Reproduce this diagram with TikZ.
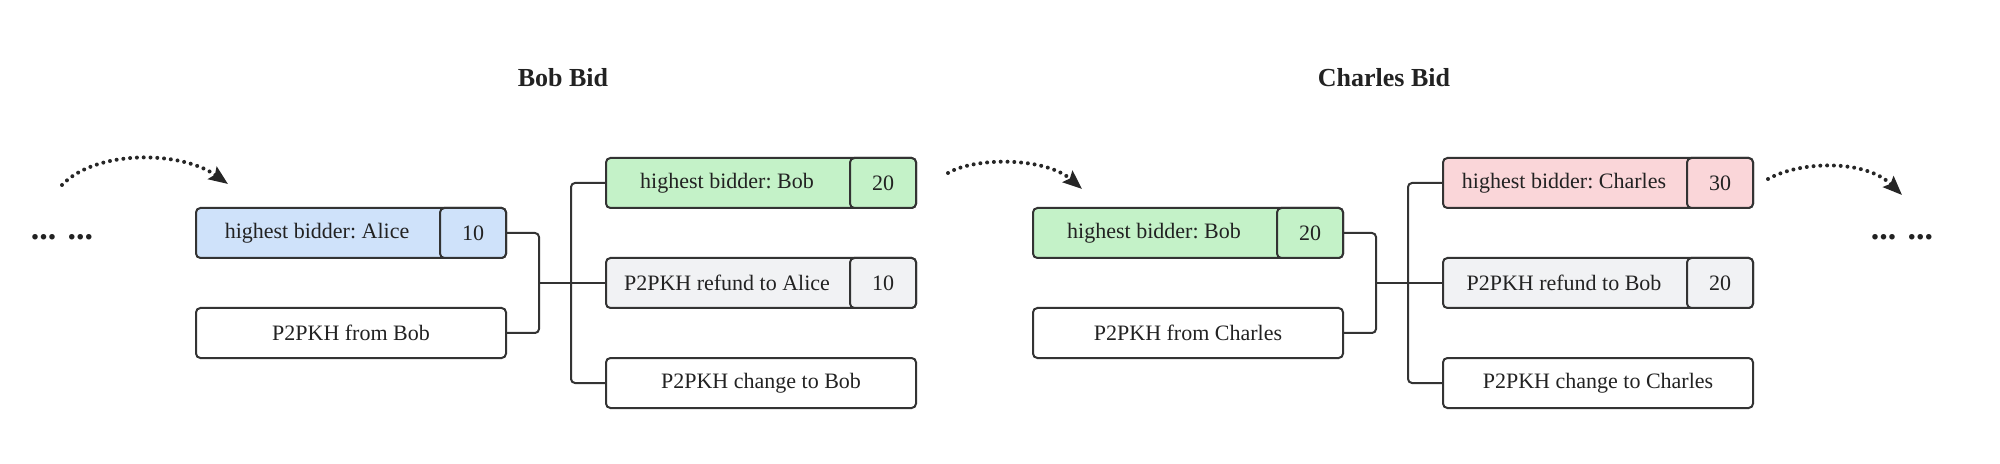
\documentclass[tikz,border=0pt]{standalone}
\usepackage{fontspec}
\setmainfont{Liberation Serif}
\usetikzlibrary{arrows.meta,calc}
\definecolor{linec}{RGB}{51,51,51}
\definecolor{textc}{RGB}{34,34,34}
\definecolor{cblue}{RGB}{207,226,250}
\definecolor{cgreen}{RGB}{196,242,200}
\definecolor{cpink}{RGB}{250,214,217}
\definecolor{cgray}{RGB}{241,242,244}
\tikzset{
  outbox/.style={draw=linec, line width=1pt, rounded corners=2.2pt, minimum width=155pt, minimum height=25pt, inner sep=0pt, font=\fontsize{11}{13}\selectfont\frenchspacing, text=textc},
  valcell/.style={draw=linec, line width=1pt, rounded corners=2.2pt, minimum width=33pt, minimum height=25pt, inner sep=0pt, font=\fontsize{11}{13}\selectfont, text=textc},
  lbl/.style={inner sep=0pt, font=\fontsize{11}{13}\selectfont\frenchspacing, text=textc},
  conn/.style={draw=linec, line width=1pt, rounded corners=2pt},
  title/.style={inner sep=0pt, font=\fontsize{13}{15}\selectfont\bfseries, text=textc, anchor=base},
  ellip/.style={inner sep=0pt, font=\fontsize{17}{19}\selectfont\bfseries\nonfrenchspacing, text=textc, anchor=base},
  flow/.style={draw=black!85, line width=2pt, line cap=round, dash pattern=on 0pt off 3.4pt, -{Stealth[length=9.5pt,width=7.5pt,inset=1.5pt,fill=linec]}}
}
\begin{document}
\begin{tikzpicture}[x=0.5pt,y=-0.5pt]
\useasboundingbox (0,0) rectangle (2000,464);

% titles
\node[title] (t1) at (563,87) {Bob Bid};
\node[title] (t2) at (1384,87) {Charles Bid};

% ellipses
\node[ellip] (dl) at (62,240) {... ...};
\node[ellip] (dr) at (1902,240) {... ...};

% ===== Bob Bid =====
\node[outbox, fill=cblue, anchor=west] (a1) at (195,233) {};
\node[valcell, fill=cblue, anchor=east] (a1v) at (a1.east) {10};
\node[lbl] (a1t) at ($(a1.west)!0.5!(a1v.west)$) {highest bidder: Alice};
\node[outbox, fill=white, anchor=west] (a2) at (195,333) {P2PKH from Bob};

\node[outbox, fill=cgreen, anchor=west] (b1) at (605,183) {};
\node[valcell, fill=cgreen, anchor=east] (b1v) at (b1.east) {20};
\node[lbl] (b1t) at ($(b1.west)!0.5!(b1v.west)$) {highest bidder: Bob};
\node[outbox, fill=cgray, anchor=west] (b2) at (605,283) {};
\node[valcell, fill=cgray, anchor=east] (b2v) at (b2.east) {10};
\node[lbl] (b2t) at ($(b2.west)!0.5!(b2v.west)$) {P2PKH refund to Alice};
\node[outbox, fill=white, anchor=west] (b3) at (605,383) {P2PKH change to Bob};

\coordinate (j1) at (539,283);
\coordinate (k1) at (571,283);
\draw[conn] (a1.east) -| (j1) |- (a2.east);
\draw[conn] (j1) -- (b2.west);
\draw[conn] (b1.west) -| (k1) |- (b3.west);

% ===== Charles Bid =====
\node[outbox, fill=cgreen, anchor=west] (c1) at (1032,233) {};
\node[valcell, fill=cgreen, anchor=east] (c1v) at (c1.east) {20};
\node[lbl] (c1t) at ($(c1.west)!0.5!(c1v.west)$) {highest bidder: Bob};
\node[outbox, fill=white, anchor=west] (c2) at (1032,333) {P2PKH from Charles};

\node[outbox, fill=cpink, anchor=west] (d1) at (1442,183) {};
\node[valcell, fill=cpink, anchor=east] (d1v) at (d1.east) {30};
\node[lbl] (d1t) at ($(d1.west)!0.5!(d1v.west)$) {highest bidder: Charles};
\node[outbox, fill=cgray, anchor=west] (d2) at (1442,283) {};
\node[valcell, fill=cgray, anchor=east] (d2v) at (d2.east) {20};
\node[lbl] (d2t) at ($(d2.west)!0.5!(d2v.west)$) {P2PKH refund to Bob};
\node[outbox, fill=white, anchor=west] (d3) at (1442,383) {P2PKH change to Charles};

\coordinate (j2) at (1376,283);
\coordinate (k2) at (1408,283);
\draw[conn] (c1.east) -| (j2) |- (c2.east);
\draw[conn] (j2) -- (d2.west);
\draw[conn] (d1.west) -| (k2) |- (d3.west);

% ===== dotted flow arrows =====
\coordinate (f1s) at (62,185);
\coordinate (f1e) at (228,184);
\coordinate (f2s) at (948,173);
\coordinate (f2e) at (1082,189);
\coordinate (f3s) at (1768,179);
\coordinate (f3e) at (1902,195);
\draw[flow] (f1s) .. controls (95,150) and (180,150) .. (f1e);
\draw[flow] (f2s) .. controls (975,157) and (1045,157) .. (f2e);
\draw[flow] (f3s) .. controls (1800,161) and (1865,159) .. (f3e);
\end{tikzpicture}
\end{document}
